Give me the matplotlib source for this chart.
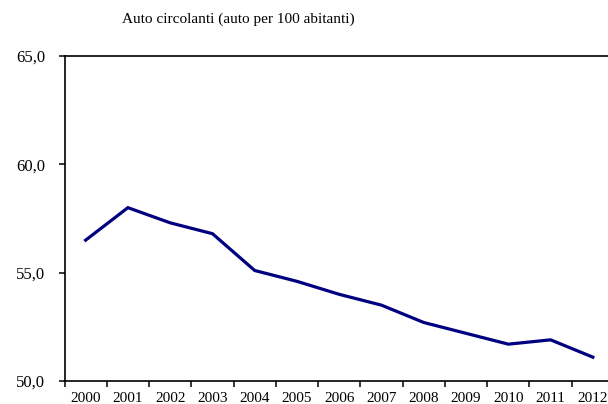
import matplotlib
matplotlib.use("Agg")
import matplotlib.pyplot as plt
from matplotlib.ticker import FixedLocator, FuncFormatter

years = ["2000", "2001", "2002", "2003", "2004", "2005", "2006",
         "2007", "2008", "2009", "2010", "2011", "2012"]
cars_per_100 = [56.5, 58.0, 57.3, 56.8, 55.1, 54.6, 54.0,
                53.5, 52.7, 52.2, 51.7, 51.9, 51.1]
y_ticks = [50.0, 55.0, 60.0, 65.0]
title = "Auto circolanti (auto per 100 abitanti)"

plt.rcParams["font.family"] = ["Liberation Serif", "DejaVu Serif"]

W, H = 608, 404
fig = plt.figure(figsize=(W / 100, H / 100), dpi=100)
left, right, top, bottom = 64.5, 614.0, 56.0, 381.0
ax = fig.add_axes([left / W, 1 - bottom / H, (right - left) / W, (bottom - top) / H])

x = list(range(len(years)))
ax.plot(x, cars_per_100, color="#000080", linewidth=2.3, solid_joinstyle="miter")

ax.set_xlim(-0.5, len(years) - 0.5)
ax.set_ylim(y_ticks[0], y_ticks[-1])

ax.set_xticks(x)
ax.set_xticklabels(years)
ax.xaxis.set_minor_locator(FixedLocator([i - 0.5 for i in range(len(years) + 1)]))
ax.tick_params(axis="x", which="major", length=0, pad=8, labelsize=11)
ax.tick_params(axis="x", which="minor", length=4, width=1.1, direction="out")

ax.set_yticks(y_ticks)
ax.yaxis.set_major_formatter(FuncFormatter(lambda v, p: f"{v:.1f}".replace(".", ",")))
ax.tick_params(axis="y", length=4, width=1.1, pad=10, labelsize=12)

for side in ("left", "bottom", "top"):
    ax.spines[side].set_linewidth(1.2)
ax.spines["right"].set_visible(False)

fig.text(122 / W, 1 - 19 / H, title, ha="left", va="center", fontsize=11)

fig.savefig("out.png", dpi=100)
